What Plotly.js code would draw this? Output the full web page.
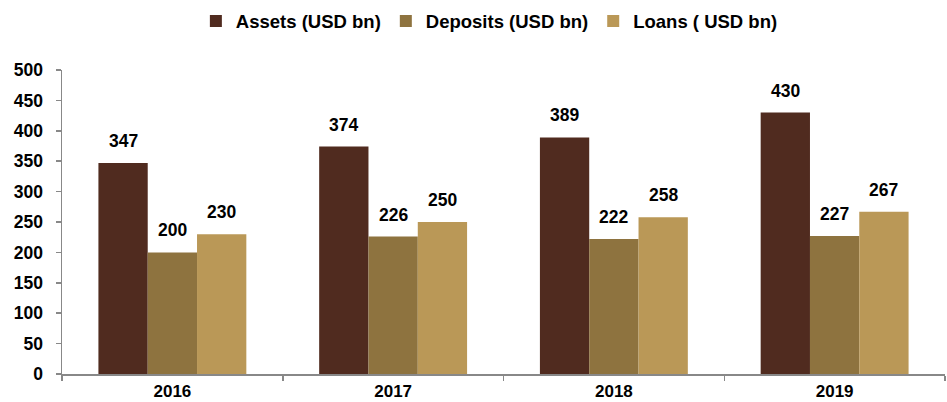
<!DOCTYPE html>
<html>
<head>
<meta charset="utf-8">
<script src="https://cdn.plot.ly/plotly-3.0.1.min.js"></script>
<style>html,body{margin:0;padding:0;background:#fff;}#chart{width:947px;height:402px;}</style>
</head>
<body>
<div id="chart"></div>
<script>
const years = ['2016', '2017', '2018', '2019'];
const assets = [347, 374, 389, 430];
const deposits = [200, 226, 222, 227];
const loans = [230, 250, 258, 267];
const seriesNames = ['Assets (USD bn)', 'Deposits (USD bn)', 'Loans ( USD bn)'];
const seriesColors = ['#502B1F', '#8E733F', '#BA9857'];

const FONT = 'Liberation Sans, Arial, Helvetica, sans-serif';
const bargap = 0.33;
const seriesValues = [assets, deposits, loans];

const traces = seriesValues.map((vals, i) => ({
  type: 'bar',
  name: seriesNames[i],
  x: years,
  y: vals,
  marker: {color: seriesColors[i], line: {width: 0}},
  hoverinfo: 'x+y+name'
}));

const bw = (1 - bargap) / seriesValues.length;
const annotations = [];
seriesValues.forEach((vals, i) => {
  vals.forEach((v, j) => {
    annotations.push({
      xref: 'x', yref: 'y',
      x: j + (i - (seriesValues.length - 1) / 2) * bw,
      y: v,
      text: String(v),
      showarrow: false,
      yanchor: 'middle',
      yshift: 22,
      font: {family: FONT, size: 17.5, color: '#000', weight: 'bold'}
    });
  });
});

const layout = {
  width: 947, height: 402,
  margin: {l: 62, r: 2, t: 67, b: 28},
  paper_bgcolor: '#fff', plot_bgcolor: '#fff',
  barmode: 'group', bargap: bargap, bargroupgap: 0,
  font: {family: FONT, size: 17.5, color: '#000', weight: 'bold'},
  showlegend: true,
  legend: {
    orientation: 'h', x: 0.484, xanchor: 'center', y: 1.16, yanchor: 'middle',
    font: {family: FONT, size: 18.5, color: '#000', weight: 'bold'},
    traceorder: 'normal'
  },
  xaxis: {
    type: 'category', automargin: false,
    showline: true, linecolor: '#888', linewidth: 2,
    ticks: 'outside', tickson: 'boundaries', ticklen: 5, tickcolor: '#888', tickwidth: 1.5,
    ticklabelstandoff: 1,
    showgrid: false, zeroline: false,
    tickfont: {family: FONT, size: 17, color: '#000', weight: 'bold'}
  },
  yaxis: {
    range: [0, 500], dtick: 50, tick0: 0, automargin: false,
    showline: true, linecolor: '#888', linewidth: 1.5,
    ticks: 'outside', ticklen: 5, tickcolor: '#888', tickwidth: 1.5,
    ticklabelstandoff: 9,
    showgrid: false, zeroline: false,
    tickfont: {family: FONT, size: 17.5, color: '#000', weight: 'bold'}
  },
  annotations: annotations
};

Plotly.newPlot('chart', traces, layout, {displayModeBar: false, staticPlot: true});
</script>
</body>
</html>
